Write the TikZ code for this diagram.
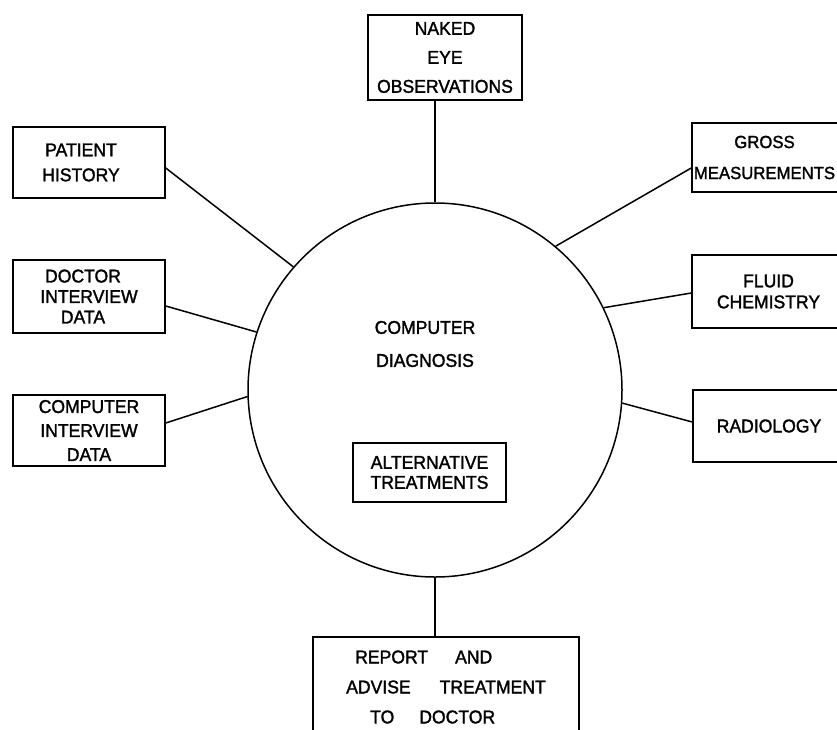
\documentclass[tikz,border=0pt]{standalone}
\usepackage{fontspec}
\setmainfont{Liberation Sans}[FakeStretch=0.95, FakeBold=1.6]
\usetikzlibrary{calc}
\newcommand\fs[1]{\fontsize{18.5pt}{#1pt}\selectfont}
\tikzset{
  box/.style={draw, rectangle, line width=1.5pt, inner sep=0pt, align=center},
  link/.style={line width=1.5pt},
}
\begin{document}
\begin{tikzpicture}[x=1pt,y=-1pt]
\useasboundingbox (0,0) rectangle (837,729);
\clip (0,0) rectangle (837,729);
% central circle
\node[draw, circle, line width=1.5pt, minimum size=374pt, inner sep=0pt] (cd) at (435,390) {};
\node[font=\fs{33}, align=center] (diag) at (425,344) {COMPUTER\\DIAGNOSIS};
\node[box, minimum width=153pt, minimum height=59pt, font=\fs{20}] (alt) at (429.5,472.5) {ALTERNATIVE\\TREATMENTS};
% boxes
\node[box, minimum width=154pt, minimum height=85pt, font=\fs{29}] (ne) at (445,57.5) {NAKED\\EYE\\OBSERVATIONS};
\node[box, minimum width=152pt, minimum height=71pt, font=\fs{25}] (ph) at (89,162.5) {PATIENT\hspace*{16pt}\\HISTORY\hspace*{16pt}};
\node[box, minimum width=152pt, minimum height=73pt, font=\fs{20.5}] (di) at (89,296.5) {DOCTOR\hspace*{12pt}\\INTERVIEW\hspace*{12pt}\\DATA\hspace*{12pt}};
\node[box, minimum width=152pt, minimum height=71pt, font=\fs{24}] (ci) at (89,430.5) {COMPUTER\\INTERVIEW\\DATA};
\node[box, minimum width=153pt, minimum height=69pt, font=\fontsize{17.6pt}{31pt}\selectfont] (gm) at (768.5,157.5) {GROSS\hspace*{8pt}\\MEASUREMENTS\hspace*{8pt}};
\node[box, minimum width=153pt, minimum height=73pt, font=\fs{21}] (fc) at (768.5,291.5) {FLUID\\CHEMISTRY};
\node[box, minimum width=152pt, minimum height=72pt, font=\fs{24}] (ra) at (769,426) {RADIOLOGY};
\node[box, minimum width=266pt, minimum height=100pt, font=\fs{30}, align=left] (rep) at (446,687)
  {\hspace*{9pt}REPORT\hspace{27pt}AND\\ADVISE\hspace{29pt}TREATMENT\\\hspace*{24pt}TO\hspace{25pt}DOCTOR};
% connectors
\draw[link] ($(ne.south)+(-10,0)$) -- (cd.north);
\draw[link] (cd.south) -- (cd.south |- rep.north);
\draw[link] ($(ph.east)+(0,5.5)$) -- (cd.139);
\draw[link] ($(di.east)+(0,9.5)$) -- (cd.162);
\draw[link] ($(ci.east)+(0,-7.5)$) -- (cd.182);
\draw[link] ($(gm.west)+(0,10.5)$) -- (cd.50);
\draw[link] ($(fc.west)+(0,1.5)$) -- (cd.26);
\draw[link] ($(ra.west)+(0,-4)$) -- (cd.-4);
\end{tikzpicture}
\end{document}
